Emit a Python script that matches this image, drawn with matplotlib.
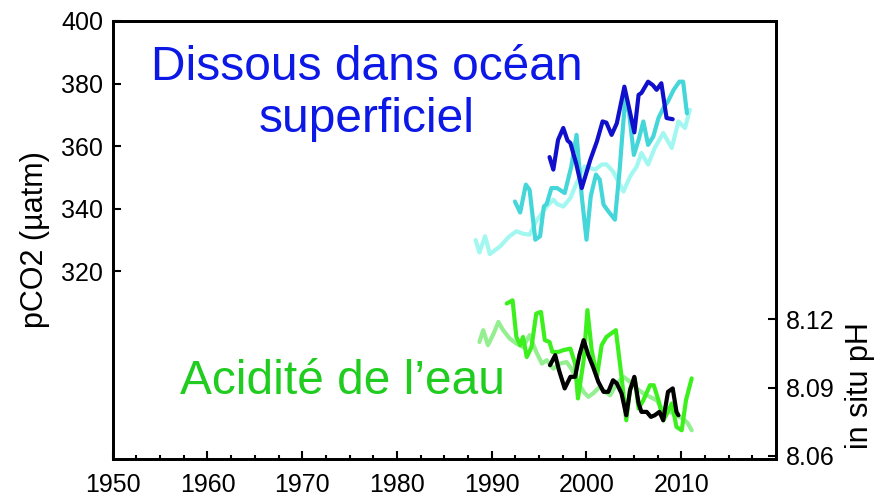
import matplotlib
matplotlib.use("Agg")
import matplotlib.pyplot as plt
from matplotlib.ticker import MultipleLocator

plt.rcParams['font.family'] = ['Liberation Sans', 'DejaVu Sans']

# Surface-ocean pCO2 (µatm), three station records
years_pco2_dark = [1996.1, 1996.5, 1997.0, 1997.55, 1998.0, 1998.3, 1998.9, 1999.5, 2000.4,
                   2001.1, 2001.7, 2002.1, 2002.65, 2003.2, 2004.0, 2004.5, 2005.05, 2005.5,
                   2005.8, 2006.5, 2007.0, 2007.4, 2007.9, 2008.45, 2009.1]
pco2_dark = [356.5, 352.5, 362.0, 365.8, 361.8, 361.0, 354.6, 346.6, 355.6,
             361.5, 367.9, 367.5, 363.6, 367.3, 379.0, 372.1, 364.4, 376.4,
             377.0, 380.6, 379.5, 378.0, 380.1, 369.0, 368.6]

years_pco2_mid = [1992.45, 1993.0, 1993.6, 1994.0, 1994.6, 1995.1, 1995.5, 1995.8, 1996.3,
                  1996.9, 1997.7, 1998.4, 1998.95, 1999.5, 2000.0, 2000.45, 2001.0, 2001.4,
                  2001.8, 2002.3, 2003.0, 2003.5, 2004.1, 2004.5, 2005.0, 2005.5, 2006.0,
                  2006.5, 2007.05, 2007.6, 2008.1, 2008.6, 2009.2, 2009.8, 2010.2, 2010.6]
pco2_mid = [342.3, 338.8, 347.7, 346.0, 330.1, 331.2, 340.7, 341.5, 346.6,
            346.6, 345.0, 353.5, 363.6, 344.0, 330.1, 344.0, 350.9, 349.3,
            341.3, 339.2, 336.5, 352.5, 375.8, 370.5, 357.2, 362.0, 367.9,
            360.4, 363.1, 369.0, 372.1, 374.3, 378.0, 380.6, 380.6, 370.5]

years_pco2_light = [1988.3, 1988.7, 1989.3, 1989.8, 1990.9, 1991.8, 1992.6, 1993.3, 1994.0,
                    1994.7, 1995.3, 1995.8, 1996.5, 1996.9, 1997.55, 1998.3, 1998.95, 1999.8,
                    2000.9, 2001.6, 2002.1, 2002.8, 2003.9, 2004.6, 2005.3, 2005.8, 2006.5,
                    2007.2, 2008.1, 2009.0, 2009.7, 2010.4, 2010.9]
pco2_light = [330.0, 326.0, 331.2, 325.5, 328.0, 331.0, 332.8, 332.0, 331.7,
              336.0, 338.6, 340.7, 342.9, 341.5, 340.7, 343.4, 348.2, 353.5,
              352.5, 354.1, 354.2, 351.9, 345.5, 350.3, 353.5, 357.8, 354.1,
              359.4, 364.2, 359.4, 367.9, 365.8, 371.6]

# In situ pH records
years_ph_bright = [1991.58, 1992.2, 1992.6, 1993.0, 1993.3, 1993.7, 1994.2, 1994.7, 1995.2,
                   1995.6, 1996.1, 1996.4, 1997.0, 1997.55, 1998.3, 1998.8, 1999.1, 1999.7,
                   2000.1, 2000.55, 2001.1, 2001.6, 2002.1, 2003.1, 2003.7, 2004.2, 2004.6,
                   2005.1, 2005.5, 2006.0, 2006.7, 2007.1, 2007.6, 2008.1, 2008.5, 2009.0,
                   2009.5, 2010.05, 2010.5, 2011.1]
ph_bright = [8.1269, 8.1283, 8.1122, 8.1086, 8.1122, 8.1034, 8.1078, 8.1225, 8.1232,
             8.1108, 8.1100, 8.1056, 8.1056, 8.1064, 8.1071, 8.1005, 8.0852, 8.1020,
             8.1240, 8.1064, 8.0947, 8.1086, 8.1122, 8.1152, 8.0947, 8.0756, 8.0896,
             8.0940, 8.0808, 8.0844, 8.0910, 8.0910, 8.0844, 8.0756, 8.0786, 8.0830,
             8.0727, 8.0712, 8.0844, 8.0940]

years_ph_light = [1988.7, 1989.1, 1989.6, 1990.2, 1990.7, 1991.2, 1991.9, 1992.6, 1993.3,
                  1994.0, 1994.7, 1995.3, 1995.8, 1996.5, 1997.2, 1997.9, 1998.4, 1999.0,
                  1999.7, 2000.2, 2000.7, 2001.4, 2001.95, 2002.5, 2003.2, 2003.9, 2004.6,
                  2005.3, 2006.0, 2006.7, 2007.4, 2008.1, 2008.8, 2009.5, 2010.2, 2010.7,
                  2011.1]
ph_light = [8.1100, 8.1152, 8.1086, 8.1137, 8.1188, 8.1152, 8.1115, 8.1093, 8.1078,
            8.1130, 8.1056, 8.1005, 8.1020, 8.0983, 8.1005, 8.1012, 8.0983, 8.0932,
            8.0881, 8.0859, 8.0874, 8.0903, 8.0881, 8.0866, 8.0918, 8.0947, 8.0925,
            8.0896, 8.0874, 8.0859, 8.0844, 8.0800, 8.0793, 8.0778, 8.0764, 8.0742,
            8.0712]

years_ph_black = [1996.15, 1996.7, 1997.1, 1997.7, 1998.3, 1998.8, 1999.25, 1999.7, 2000.2,
                  2000.7, 2001.25, 2001.8, 2002.3, 2002.8, 2003.2, 2003.7, 2004.2, 2004.6,
                  2005.05, 2005.5, 2005.8, 2006.35, 2006.8, 2007.2, 2007.7, 2008.1, 2008.6,
                  2009.1, 2009.5, 2009.7]
ph_black = [8.0998, 8.1042, 8.0976, 8.0896, 8.0947, 8.0947, 8.1042, 8.1108, 8.1042,
            8.0990, 8.0925, 8.0881, 8.0881, 8.0932, 8.0918, 8.0874, 8.0778, 8.0888,
            8.0947, 8.0830, 8.0793, 8.0793, 8.0771, 8.0778, 8.0793, 8.0756, 8.0881,
            8.0896, 8.0793, 8.0778]

pco2_ticks = [320, 340, 360, 380, 400]
ph_ticks = [8.06, 8.09, 8.12]
year_ticks = [1950, 1960, 1970, 1980, 1990, 2000, 2010]

W, H = 883, 496
fig = plt.figure(figsize=(W / 100, H / 100), dpi=100)
ax = fig.add_axes([112.7 / W, 1 - 459 / H, (776 - 112.7) / W, (459 - 21) / H])
ax2 = ax.twinx()

lw = 3.0
style = dict(lw=lw, solid_joinstyle='round', solid_capstyle='round')
ax.plot(years_pco2_light, pco2_light, color='#a2f7f0', **style)
ax.plot(years_pco2_mid, pco2_mid, color='#44d6d8', **style)
ax.plot(years_pco2_dark, pco2_dark, color='#1010cc', **style)

ax2.plot(years_ph_light, ph_light, color='#94ef90', **style)
ax2.plot(years_ph_bright, ph_bright, color='#3cf01e', **style)
ax2.plot(years_ph_black, ph_black, color='black', **style)

ax.set_xlim(1950, 2020)
ax.set_ylim(260, 400)
ax2.set_ylim(8.0586, 8.251)

ax.set_xticks(year_ticks)
ax.set_xticklabels([str(y) for y in year_ticks])
ax.xaxis.set_minor_locator(MultipleLocator(2.5))
ax.set_yticks(pco2_ticks)
ax.set_yticklabels([str(v) for v in pco2_ticks])
ax2.set_yticks(ph_ticks)
ax2.set_yticklabels([f"{v:.2f}" for v in ph_ticks])

tick_fs = 18
ax.tick_params(axis='x', which='major', direction='in', length=6, width=1.5,
               labelsize=tick_fs, pad=10, top=False)
ax.tick_params(axis='x', which='minor', direction='in', length=3, width=1.5, top=False)
ax.tick_params(axis='y', which='major', direction='in', length=6, width=1.5,
               labelsize=tick_fs, pad=7, right=False)
ax2.tick_params(axis='y', which='major', direction='in', length=6, width=1.5,
                labelsize=tick_fs, pad=7, left=False)

for a in (ax, ax2):
    for s in a.spines.values():
        s.set_linewidth(2)

fig.text(35 / W, 1 - 240 / H, 'pCO2 (µatm)', rotation=90, ha='center', va='center', fontsize=22)
fig.text(860 / W, 1 - 386 / H, 'in situ pH', rotation=90, ha='center', va='center', fontsize=22)

fig.text(367 / W, 1 - 94 / H, 'Dissous dans océan\nsuperficiel', ha='center', va='center',
         fontsize=34.5, color='#0c18e6', linespacing=1.2)
fig.text(343 / W, 1 - 382 / H, 'Acidité de l’eau', ha='center', va='center',
         fontsize=34.5, color='#20cc20')

fig.savefig('out.png', dpi=100)
